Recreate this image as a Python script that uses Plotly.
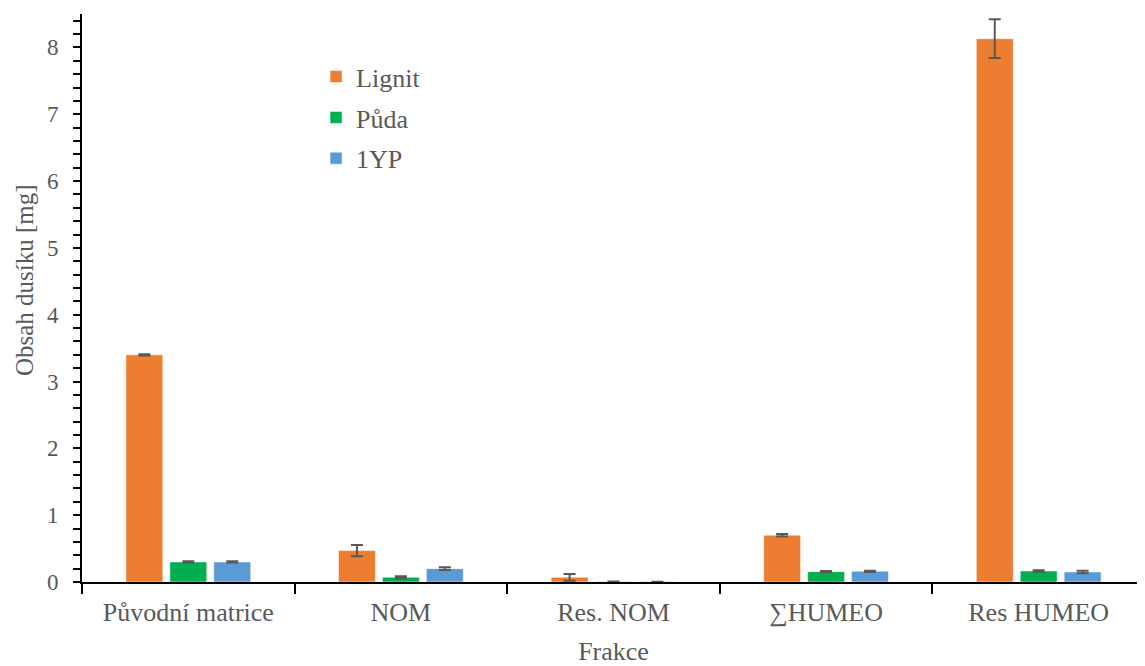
import plotly.graph_objects as go

categories = ['Původní matrice', 'NOM', 'Res. NOM', '∑HUMEO', 'Res HUMEO']

lignit = [3.40, 0.47, 0.07, 0.70, 8.13]
lignit_err = [0.01, 0.085, 0.05, 0.02, 0.29]
puda = [0.30, 0.07, 0.004, 0.155, 0.165]
puda_err = [0.01, 0.015, 0.003, 0.01, 0.012]
yp = [0.30, 0.20, 0.003, 0.16, 0.15]
yp_err = [0.01, 0.02, 0.002, 0.01, 0.02]

series = [
    ('Lignit', lignit, lignit_err, '#ED7D31'),
    ('Půda', puda, puda_err, '#00B050'),
    ('1YP', yp, yp_err, '#5B9BD5'),
]

font_family = '"Liberation Serif", "Times New Roman", serif'
grey = '#595959'

fig = go.Figure()
for i, (name, vals, errs, color) in enumerate(series):
    fig.add_trace(go.Bar(
        x=categories, y=vals, name=name, legendgroup=f'g{i}',
        marker=dict(color=color, line=dict(color='white', width=0.5)),
        error_y=dict(type='data', array=errs, visible=True,
                     color=grey, thickness=2, width=6),
    ))

# page has an 8px body margin, so the figure is a bit smaller than the window
fig.update_layout(
    width=1137, height=658,
    plot_bgcolor='white', paper_bgcolor='white',
    barmode='group', bargap=0.38, bargroupgap=0.16,
    font=dict(family=font_family, size=25, color=grey),
    margin=dict(l=74, r=0, t=6, b=84, autoexpand=False),
    legend=dict(x=0.2202, y=0.931, xanchor='left', yanchor='top',
                font=dict(family=font_family, size=26, color=grey), itemwidth=30,
                tracegroupgap=4, bgcolor='rgba(0,0,0,0)'),
    xaxis=dict(
        title=dict(text='Frakce', font=dict(family=font_family, size=26, color=grey), standoff=24),
        automargin=False,
        showline=True, linecolor='black', linewidth=2,
        ticks='outside', tickson='boundaries', ticklen=10, tickwidth=2, tickcolor='black',
        ticklabelstandoff=6,
        tickfont=dict(family=font_family, size=26, color=grey),
    ),
    yaxis=dict(
        automargin=False,
        range=[0, 8.5], dtick=1, showgrid=False, zeroline=False,
        showline=True, linecolor='black', linewidth=2,
        ticks='outside', ticklen=7, tickwidth=2, tickcolor='black',
        ticklabelstandoff=10,
        minor=dict(dtick=0.2, ticks='outside', ticklen=7, tickwidth=2, tickcolor='black'),
        tickfont=dict(family=font_family, size=23, color=grey),
    ),
)

# y title sits a little above the plot centre in the original, so place it by hand
fig.add_annotation(
    text='Obsah dusíku [mg]', textangle=-90, showarrow=False,
    xref='paper', yref='paper', x=-0.0536, y=0.5317,
    xanchor='center', yanchor='middle',
    font=dict(family=font_family, size=25, color=grey),
)

fig.write_html('out.html')
